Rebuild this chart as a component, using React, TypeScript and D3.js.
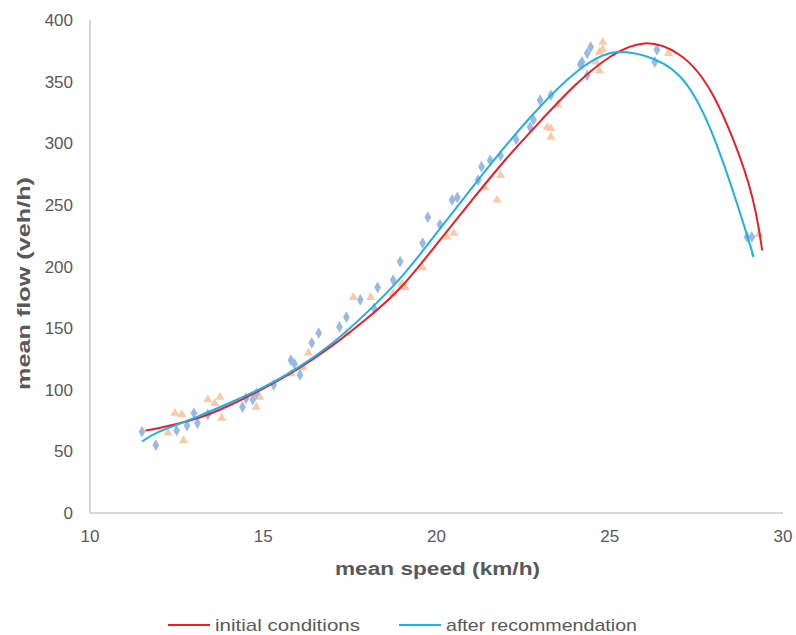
import React from "react";
import * as d3 from "d3";

// scatter: after recommendation (blue diamonds)
const afterSpeed = [11.5, 11.9, 12.5, 12.8, 13.1, 13.0, 13.4, 14.4, 14.5, 14.7, 14.8, 15.3, 15.9, 15.8, 16.06, 16.4, 16.6, 17.2, 17.4, 17.8, 18.2, 18.3, 18.75, 18.95, 19.6, 19.75, 20.1, 20.45, 20.6, 21.2, 21.3, 21.55, 21.85, 22.3, 22.7, 22.8, 22.99, 23.3, 24.15, 24.2, 24.35, 24.45, 24.35, 26.36, 26.3, 28.96, 29.1];
const afterFlow = [66, 55, 67, 71, 73, 81, 80, 86, 93, 92, 97, 104, 121, 124, 112, 138, 146, 151, 159, 173, 166, 183, 189, 204, 219, 240, 234, 254, 256, 270, 281, 286, 290, 303, 313, 319, 335, 339, 364, 366, 373, 378, 355, 376, 366, 224, 224];

// scatter: initial conditions (orange triangles)
const initialSpeed = [12.25, 12.45, 12.65, 12.7, 13.4, 13.6, 13.75, 13.8, 14.8, 14.9, 15.8, 16.15, 16.3, 17.4, 17.6, 18.1, 18.75, 19.0, 19.1, 19.6, 20.3, 20.5, 21.4, 21.75, 21.85, 23.2, 23.3, 23.3, 23.5, 24.6, 24.7, 24.7, 24.8, 24.8, 26.7, 29.3];
const initialFlow = [65, 81, 80, 59, 92, 89, 94, 77, 86, 94, 113, 118, 130, 146, 175, 175, 178, 186, 183, 199, 224, 227, 264, 254, 274, 313, 305, 312, 331, 366, 359, 374, 376, 382, 373, 226];

// trend lines
const initialTrendSpeed = [11.6, 12, 13, 14, 15, 16, 17, 18, 19, 20, 21, 22, 23, 24, 25, 26, 27, 28, 29, 29.4];
const initialTrendFlow = [67, 69, 76, 87, 101, 117, 136, 158, 184, 218, 253, 287, 318, 347, 370, 381, 372, 338, 268, 213];
const afterTrendSpeed = [11.5, 12, 13, 14, 15, 16, 17, 18, 19, 20, 21, 22, 23, 24, 25, 26, 27, 28, 29, 29.1];
const afterTrendFlow = [58, 66, 77, 89, 102, 118, 138, 163, 192, 227, 263, 298, 330, 357, 373, 371, 355, 305, 222, 211];

const xTicks = [10, 15, 20, 25, 30];
const yTicks = [0, 50, 100, 150, 200, 250, 300, 350, 400];

const legendItems = ["initial conditions", "after recommendation"];

const W = 796;
const H = 635;

const App = () => {
  const svgRef = React.useRef<SVGSVGElement>(null);

  React.useEffect(() => {
    document.body.style.margin = "0";
    const svg = d3.select(svgRef.current);
    svg.selectAll("*").remove();

    const x = d3.scaleLinear().domain([10, 30]).range([90, 783]);
    const y = d3.scaleLinear().domain([0, 400]).range([513, 20]);
    const font = "'Liberation Sans', Arial, sans-serif";
    const textColor = "#595959";

    // axes lines
    svg.append("line")
      .attr("x1", x(10)).attr("x2", x(30))
      .attr("y1", y(0)).attr("y2", y(0))
      .attr("stroke", "#c8c8c8").attr("stroke-width", 1.5);
    svg.append("line")
      .attr("x1", x(10)).attr("x2", x(10))
      .attr("y1", y(0)).attr("y2", y(400))
      .attr("stroke", "#c8c8c8").attr("stroke-width", 1.5);

    svg.append("g").selectAll("text").data(yTicks).join("text")
      .attr("x", 73).attr("y", d => y(d) + 6)
      .attr("text-anchor", "end")
      .style("font-family", font).style("font-size", "17px")
      .attr("fill", textColor)
      .text(d => d);

    svg.append("g").selectAll("text").data(xTicks).join("text")
      .attr("x", d => x(d)).attr("y", 542)
      .attr("text-anchor", "middle")
      .style("font-family", font).style("font-size", "17px")
      .attr("fill", textColor)
      .text(d => d);

    svg.append("text")
      .attr("x", 335).attr("y", 575)
      .attr("textLength", 205).attr("lengthAdjust", "spacingAndGlyphs")
      .style("font-family", font).style("font-size", "18px").style("font-weight", "bold")
      .attr("fill", textColor)
      .text("mean speed (km/h)");

    svg.append("text")
      .attr("transform", `translate(30, 390) rotate(-90)`)
      .attr("textLength", 213).attr("lengthAdjust", "spacingAndGlyphs")
      .style("font-family", font).style("font-size", "18px").style("font-weight", "bold")
      .attr("fill", textColor)
      .text("mean flow (veh/h)");

    // scatter points
    const tri = d3.symbol().type(d3.symbolTriangle).size(36);
    svg.append("g").selectAll("path").data(initialSpeed.map((s, i) => [s, initialFlow[i]]))
      .join("path")
      .attr("d", tri)
      .attr("transform", d => `translate(${x(d[0])},${y(d[1])})`)
      .attr("fill", "#f7c19c").attr("opacity", 0.85);

    const dia = d3.symbol().type(d3.symbolDiamond).size(40);
    svg.append("g").selectAll("path").data(afterSpeed.map((s, i) => [s, afterFlow[i]]))
      .join("path")
      .attr("d", dia)
      .attr("transform", d => `translate(${x(d[0])},${y(d[1])})`)
      .attr("fill", "#8fb3e0").attr("opacity", 0.9);

    const line = d3.line<number[]>()
      .x(d => x(d[0])).y(d => y(d[1]))
      .curve(d3.curveNatural);

    svg.append("path")
      .datum(initialTrendSpeed.map((s, i) => [s, initialTrendFlow[i]]))
      .attr("d", line).attr("fill", "none")
      .attr("stroke", "#ee1c25").attr("stroke-width", 2);
    svg.append("path")
      .datum(afterTrendSpeed.map((s, i) => [s, afterTrendFlow[i]]))
      .attr("d", line).attr("fill", "none")
      .attr("stroke", "#1eb1e3").attr("stroke-width", 2);

    // legend
    const legendColors = ["#ee1c25", "#1eb1e3"];
    const legendX = [168, 399];
    const legendLen = [145, 191];
    const lg = svg.append("g").selectAll("g").data(legendItems).join("g")
      .attr("transform", (d, i) => `translate(${legendX[i]}, 625)`);
    lg.append("line")
      .attr("x1", 0).attr("x2", 42).attr("y1", 0).attr("y2", 0)
      .attr("stroke", (d, i) => legendColors[i]).attr("stroke-width", 2);
    lg.append("text")
      .attr("x", 47).attr("y", 6)
      .attr("textLength", (d, i) => legendLen[i]).attr("lengthAdjust", "spacingAndGlyphs")
      .style("font-family", font).style("font-size", "17px")
      .attr("fill", textColor)
      .text(d => d);
  }, []);

  return <svg ref={svgRef} width={W} height={H} style={{ display: "block" }} />;
};

export default App;
